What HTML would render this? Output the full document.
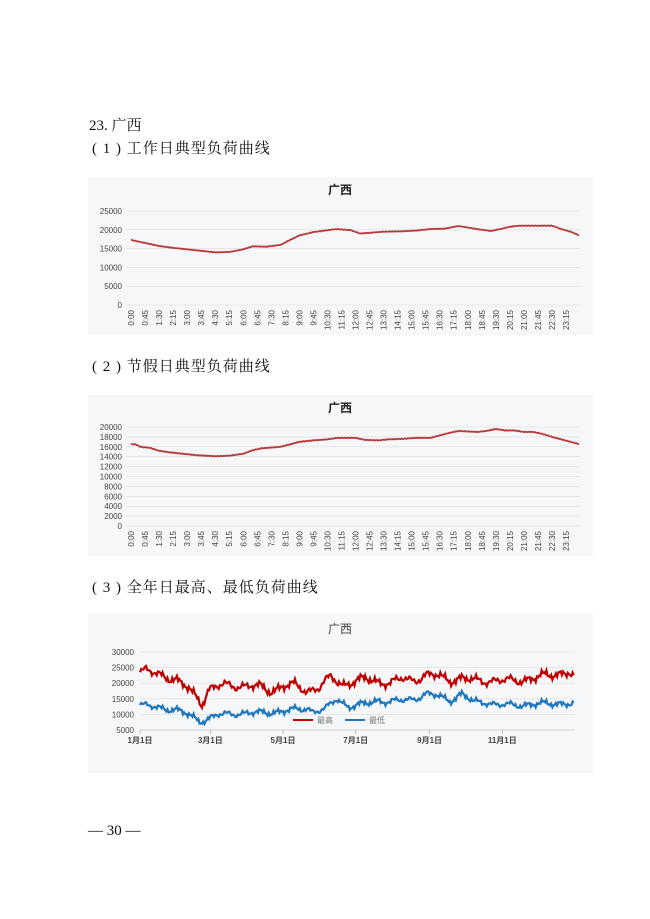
<!DOCTYPE html>
<html><head><meta charset="utf-8"><style>
body{margin:0;background:#fff;}
svg{display:block;font-family:"Liberation Sans","Noto Sans CJK SC",sans-serif;}
.h{font-family:"Liberation Serif","Noto Serif CJK SC",serif;font-size:15px;fill:#111;}
.t{font-size:8px;fill:#444;}
</style></head><body>
<svg id="s" width="650" height="919" viewBox="0 0 650 919">
<text x="89" y="130" class="h">23. 广西</text>
<text x="92" y="153" class="h" style="letter-spacing:1px">( 1 ) 工作日典型负荷曲线</text>
<text x="92" y="371" class="h" style="letter-spacing:1px">( 2 ) 节假日典型负荷曲线</text>
<text x="92" y="592" class="h" style="letter-spacing:1px">( 3 ) 全年日最高、最低负荷曲线</text>
<text x="88" y="835" class="h">— 30 —</text>
<rect x="88" y="177" width="505" height="158" fill="#f6f7f9"/>
<rect x="88" y="395" width="505" height="161" fill="#f6f7f9"/>
<rect x="88" y="613" width="505" height="160" fill="#f6f7f9"/>
<text x="340" y="194" text-anchor="middle" font-size="12" font-weight="bold" fill="#222">广西</text>
<text x="340" y="412" text-anchor="middle" font-size="12" font-weight="bold" fill="#222">广西</text>
<text x="340" y="633" text-anchor="middle" font-size="12" fill="#444">广西</text>
<g id="g"></g>
</svg>
<script>
var g=document.getElementById('g'),NS='http://www.w3.org/2000/svg';
function el(t,a,txt){var e=document.createElementNS(NS,t);for(var k in a)e.setAttribute(k,a[k]);if(txt!=null)e.textContent=txt;g.appendChild(e);return e;}
function interp(an,x){for(var i=0;i<an.length-1;i++){if(x<=an[i+1][0]){var a=an[i],b=an[i+1];return a[1]+(b[1]-a[1])*(x-a[0])/(b[0]-a[0]);}}return an[an.length-1][1];}
var X0=131,X1=580;
var labs=[];for(var m=0;m<24*60;m+=45){labs.push(Math.floor(m/60)+':'+('0'+m%60).slice(-2));}
function daily(y0,yTop,vmax,step,data){
 for(var v=0;v<=vmax;v+=step){var y=y0-v/vmax*(y0-yTop);
  el('line',{x1:X0-5,x2:X1,y1:y,y2:y,stroke:'#dcdcdc','stroke-width':0.6});
  el('text',{x:X0-9,y:y+3,'text-anchor':'end','class':'t'},v);}
 for(var i=0;i<labs.length;i++){var x=X0+i*0.75/24*(X1-X0);
  el('text',{x:0,y:0,'class':'t','text-anchor':'end',transform:'translate('+(x+3)+','+(y0+5)+') rotate(-90)'},labs[i]);}
 var p=[];for(var h=0;h<=24;h+=0.05){var v=interp(data,h)+Math.sin(h*37)*60;p.push((X0+h/24*(X1-X0)).toFixed(1)+','+(y0-v/vmax*(y0-yTop)).toFixed(1));}
 el('polyline',{points:p.join(' '),fill:'none',stroke:'#b83a3a','stroke-width':1.8});
}
daily(305,211,25000,5000,[[0,17300],[0.75,16500],[1.5,15700],[2.25,15200],[3,14800],[3.75,14400],[4.5,14000],[5.25,14100],[6,14800],[6.5,15600],[7.25,15500],[8,16000],[8.5,17300],[9,18500],[9.75,19400],[10.5,19900],[11,20200],[11.75,19900],[12.25,19000],[12.75,19200],[13.5,19500],[14.5,19600],[15.25,19800],[16,20200],[16.75,20300],[17.5,21000],[18,20600],[18.75,20000],[19.25,19700],[19.75,20200],[20.25,20800],[20.75,21100],[22.5,21100],[23,20200],[23.5,19500],[24,18400]]);
daily(526,427,20000,2000,[[0,16500],[0.25,16500],[0.5,16000],[1,15800],[1.5,15200],[2,14900],[2.75,14600],[3.5,14300],[4.5,14100],[5.25,14200],[6,14600],[6.5,15300],[7,15700],[8,16000],[9,17000],[9.75,17300],[10.5,17500],[11,17800],[12,17800],[12.5,17400],[13.25,17300],[13.75,17500],[14.5,17600],[15.25,17800],[16,17800],[16.5,18300],[17,18800],[17.5,19200],[18.5,19000],[19,19200],[19.5,19600],[20,19300],[20.5,19300],[21,19000],[21.5,19000],[22,18600],[22.5,18000],[23,17500],[24,16500]]);
var A0=140,A1=575,B0=730,BT=652;
function ay(v){return B0-(v-5000)/25000*(B0-BT);}
for(var v=5000;v<=30000;v+=5000){el('line',{x1:A0,x2:A1,y1:ay(v),y2:ay(v),stroke:'#dcdcdc','stroke-width':0.6});el('text',{x:A0-6,y:ay(v)+3,'text-anchor':'end','class':'t'},v);}
var ml=[[0,'1月1日'],[59,'3月1日'],[120,'5月1日'],[181,'7月1日'],[243,'9月1日'],[304,'11月1日']];
ml.forEach(function(m){var x=A0+m[0]/365*(A1-A0);el('line',{x1:x,x2:x,y1:B0,y2:B0+4,stroke:'#999','stroke-width':0.6});el('text',{x:x,y:B0+13,'text-anchor':'middle','class':'t','font-weight':'bold'},m[1]);});
el('line',{x1:A0,x2:A1,y1:B0,y2:B0,stroke:'#bbb','stroke-width':0.6});
var hi=[[0,23500],[5,24000],[20,22500],[30,21000],[40,18500],[48,15500],[52,13500],[58,18000],[70,19500],[90,19000],[100,19000],[110,17500],[120,19000],[130,19500],[140,17500],[150,18500],[160,22000],[170,19500],[180,20500],[190,21500],[200,20500],[210,20000],[220,21500],[230,21000],[240,22500],[250,22500],[260,21000],[270,21500],[280,21000],[290,20800],[300,20800],[320,21000],[330,21500],[340,22500],[350,23000],[360,23500],[364,22000]];
var lo=[[0,13000],[20,12000],[30,11500],[40,10000],[50,8000],[55,8200],[65,9800],[80,10300],[100,10500],[120,11000],[130,11500],[140,12000],[145,11000],[155,11500],[165,15000],[175,12500],[185,13000],[200,14500],[210,14000],[220,14500],[230,15000],[240,16500],[250,16000],[260,14500],[270,16500],[280,14000],[290,14000],[300,13000],[310,13000],[330,13200],[350,13600],[364,13300]];
function ser(an,c,amp){var p=[];for(var d=0;d<=364;d++){var v=interp(an,d)+amp*(Math.sin(d*1.7)*0.6+Math.sin(d*0.45)*1.0+Math.sin(d*3.1)*0.5+Math.sin(d*0.21)*0.6);p.push((A0+d/365*(A1-A0)).toFixed(1)+','+ay(v).toFixed(1));}
 el('polyline',{points:p.join(' '),fill:'none',stroke:c,'stroke-width':2.2});}
ser(hi,'#c00000',800);ser(lo,'#1f77c0',600);
el('line',{x1:293,x2:313,y1:720,y2:720,stroke:'#c00000','stroke-width':2});
el('text',{x:317,y:723,'font-size':8,fill:'#777'},'最高');
el('line',{x1:345,x2:365,y1:720,y2:720,stroke:'#1f77c0','stroke-width':2});
el('text',{x:369,y:723,'font-size':8,fill:'#777'},'最低');
</script>
</body></html>
